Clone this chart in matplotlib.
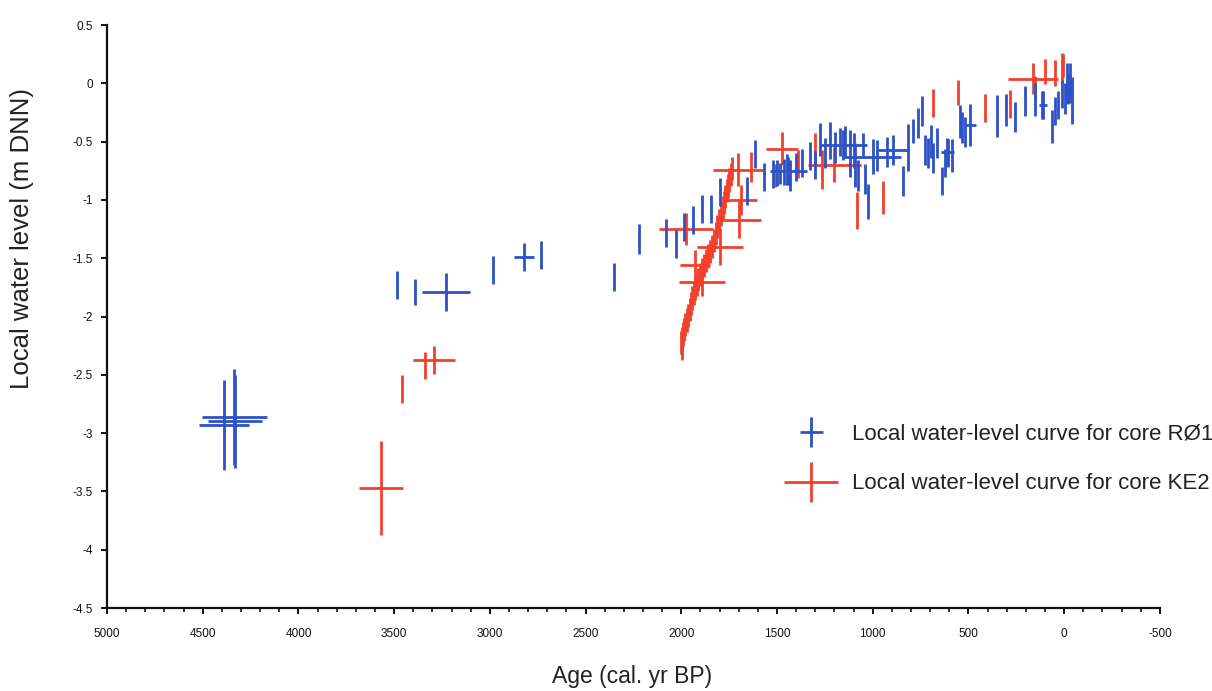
import matplotlib
matplotlib.use("Agg")
import matplotlib.pyplot as plt
from matplotlib.legend_handler import HandlerErrorbar
from matplotlib.ticker import MultipleLocator, FixedLocator, FixedFormatter

plt.rcParams['font.family'] = ['Liberation Sans', 'DejaVu Sans']

# ---- Core RØ1: age (cal. yr BP), level (m DNN), age error, level error ----
ro1_age = [4390, 4336, 4330, 3486, 3391, 3230, 2982, 2821, 2732, 2351,
           2220, 2079, 2027, 1984, 1937, 1890, 1844, 1797, 1658, 1614,
           1567, 1519, 1501, 1484, 1466, 1449, 1432, 1442, 1400, 1370,
           1327, 1300, 1275, 1249, 1223, 1196, 1170, 1155, 1144, 1118,
           1100, 1092, 1075, 1050, 1040, 1024, 1000, 977, 926, 893,
           841, 815, 789, 763, 745, 727, 711, 695, 684, 663,
           637, 622, 610, 606, 585, 543, 535, 520, 490, 352,
           303, 256, 204, 152, 117, 110, 66, 48, 32, 12,
           -5, -14, -22, -31, -40]
ro1_level = [-2.93, -2.86, -2.90, -1.73, -1.79, -1.79, -1.60, -1.49, -1.475, -1.66,
             -1.335, -1.28, -1.38, -1.235, -1.17, -1.08, -1.08, -0.93, -0.92, -0.61,
             -0.80, -0.78, -0.77, -0.77, -0.76, -0.74, -0.79, -0.75, -0.72, -0.68,
             -0.62, -0.70, -0.48, -0.60, -0.49, -0.55, -0.50, -0.53, -0.50, -0.60,
             -0.58, -0.70, -0.79, -0.53, -0.82, -1.01, -0.63, -0.62, -0.59, -0.57,
             -0.84, -0.55, -0.41, -0.34, -0.24, -0.57, -0.60, -0.50, -0.64, -0.51,
             -0.84, -0.68, -0.59, -0.60, -0.62, -0.33, -0.38, -0.42, -0.36, -0.28,
             -0.23, -0.29, -0.15, -0.14, -0.19, -0.19, -0.37, -0.24, -0.19, -0.09,
             -0.13, 0.00, -0.05, 0.00, -0.15]
ro1_age_err = [130, 170, 140, 0, 0, 125, 0, 52, 0, 0,
               0, 0, 0, 0, 0, 0, 0, 0, 0, 0,
               0, 0, 0, 0, 0, 0, 0, 96, 0, 0,
               0, 0, 0, 0, 0, 0, 0, 125, 0, 0,
               0, 0, 0, 0, 0, 0, 150, 0, 0, 85,
               0, 0, 0, 0, 0, 0, 0, 0, 0, 0,
               0, 0, 35, 0, 0, 0, 0, 0, 30, 0,
               0, 0, 0, 0, 0, 20, 0, 0, 0, 0,
               0, 0, 0, 0, 0]
ro1_level_err = [0.39, 0.41, 0.40, 0.12, 0.115, 0.16, 0.12, 0.12, 0.12, 0.12,
                 0.125, 0.12, 0.12, 0.12, 0.12, 0.12, 0.12, 0.12, 0.12, 0.12,
                 0.12, 0.12, 0.11, 0.09, 0.11, 0.13, 0.13, 0.12, 0.12, 0.12,
                 0.12, 0.12, 0.14, 0.13, 0.16, 0.13, 0.12, 0.13, 0.13, 0.20,
                 0.15, 0.19, 0.13, 0.10, 0.13, 0.15, 0.15, 0.13, 0.13, 0.13,
                 0.13, 0.20, 0.10, 0.13, 0.13, 0.13, 0.13, 0.14, 0.13, 0.13,
                 0.12, 0.12, 0.12, 0.12, 0.14, 0.14, 0.13, 0.13, 0.18, 0.18,
                 0.14, 0.13, 0.13, 0.14, 0.12, 0.12, 0.14, 0.12, 0.12, 0.12,
                 0.13, 0.17, 0.13, 0.17, 0.20]

# ---- Core KE2 ----
ke2_age = [3570, 3460, 3339, 3290,
           2001, 1999, 1997, 1994, 1990, 1985, 1979, 1972, 1964, 1957, 1950,
           1942, 1934, 1927, 1919, 1911, 1902, 1892, 1882, 1872, 1862,
           1851, 1841, 1831, 1821, 1811, 1801, 1792, 1784, 1777, 1770,
           1763, 1756, 1749, 1742, 1735,
           1975, 1928, 1890, 1800, 1700, 1690, 1705, 1475, 1200,
           1637, 1510, 1390, 1301, 1266, 1081, 949,
           684, 554, 413, 282, 162, 152, 99, 48, 12, 5]
ke2_level = [-3.47, -2.62, -2.42, -2.37,
             -2.22, -2.27, -2.23, -2.19, -2.15, -2.11, -2.07, -2.03, -1.99, -1.94, -1.89,
             -1.84, -1.80, -1.76, -1.72, -1.68, -1.64, -1.60, -1.56, -1.52, -1.48,
             -1.44, -1.40, -1.35, -1.29, -1.23, -1.18, -1.12, -1.07, -1.02, -0.97,
             -0.92, -0.88, -0.83, -0.78, -0.73,
             -1.25, -1.56, -1.70, -1.40, -1.17, -1.00, -0.74, -0.56, -0.70,
             -0.72, -0.79, -0.69, -0.56, -0.74, -1.09, -0.98,
             -0.17, -0.08, -0.21, -0.18, 0.04, -0.04, 0.10, 0.09, 0.13, 0.15]
ke2_age_err = [115, 0, 0, 110,
               0, 0, 0, 0, 0, 0, 0, 0, 0, 0, 0,
               0, 0, 0, 0, 0, 0, 0, 0, 0, 0,
               0, 0, 0, 0, 0, 0, 0, 0, 0, 0,
               0, 0, 0, 0, 0,
               140, 80, 120, 120, 115, 85, 130, 85, 140,
               0, 0, 0, 0, 0, 0, 0,
               0, 0, 0, 0, 131, 0, 0, 0, 0, 0]
ke2_level_err = [0.40, 0.12, 0.115, 0.12,
                 0.10, 0.10, 0.10, 0.10, 0.10, 0.10, 0.10, 0.10, 0.10, 0.10, 0.10,
                 0.10, 0.10, 0.10, 0.10, 0.10, 0.10, 0.10, 0.10, 0.10, 0.10,
                 0.10, 0.10, 0.10, 0.10, 0.10, 0.10, 0.10, 0.10, 0.10, 0.10,
                 0.10, 0.10, 0.10, 0.10, 0.10,
                 0.14, 0.13, 0.12, 0.16, 0.16, 0.13, 0.14, 0.14, 0.15,
                 0.13, 0.10, 0.12, 0.13, 0.17, 0.155, 0.14,
                 0.12, 0.11, 0.12, 0.12, 0.13, 0.10, 0.11, 0.11, 0.13, 0.10]

x_ticks = [5000, 4500, 4000, 3500, 3000, 2500, 2000, 1500, 1000, 500, 0, -500]
x_tick_labels = ['5000', '4500', '4000', '3500', '3000', '2500', '2000',
                 '1500', '1000', '500', '0', '-500']
y_ticks = [0.5, 0, -0.5, -1, -1.5, -2, -2.5, -3, -3.5, -4, -4.5]
y_tick_labels = ['0.5', '0', '-0.5', '-1', '-1.5', '-2', '-2.5', '-3', '-3.5', '-4', '-4.5']

label_ro1 = 'Local water-level curve for core RØ1'
label_ke2 = 'Local water-level curve for core KE2'

BLUE = '#2c52c6'
RED = '#f3402d'

fig = plt.figure(figsize=(12.12, 6.91), dpi=100)
ax = fig.add_axes([0.0883, 0.120, 0.8687, 0.8438])

eb_ro1 = ax.errorbar(ro1_age, ro1_level, xerr=ro1_age_err, yerr=ro1_level_err,
                     fmt='none', ecolor=BLUE, elinewidth=2.0, capsize=0, zorder=3)
eb_ke2 = ax.errorbar(ke2_age, ke2_level, xerr=ke2_age_err, yerr=ke2_level_err,
                     fmt='none', ecolor=RED, elinewidth=2.0, capsize=0, zorder=2)

ax.set_xlim(5000, -500)
ax.set_ylim(-4.5, 0.5)

ax.xaxis.set_major_locator(FixedLocator(x_ticks))
ax.xaxis.set_major_formatter(FixedFormatter(x_tick_labels))
ax.xaxis.set_minor_locator(MultipleLocator(100))
ax.yaxis.set_major_locator(FixedLocator(y_ticks))
ax.yaxis.set_major_formatter(FixedFormatter(y_tick_labels))

for side in ('top', 'right'):
    ax.spines[side].set_visible(False)
for side in ('left', 'bottom'):
    ax.spines[side].set_linewidth(1.6)
    ax.spines[side].set_color('#111111')

ax.tick_params(axis='both', which='major', direction='out', length=4, width=1.4,
               labelsize=8.5, colors='#111111')
ax.tick_params(axis='x', which='minor', direction='out', length=3, width=1.2,
               colors='#111111')
ax.tick_params(axis='x', which='major', pad=10)
ax.tick_params(axis='y', which='major', pad=6)

ax.set_xlabel('Age (cal. yr BP)', fontsize=16.5, color='#222222', va='top')
ax.xaxis.set_label_coords(0.4986, -0.097)
ax.set_ylabel('Local water level (m DNN)', fontsize=18.5, color='#222222')
ax.yaxis.set_label_coords(-0.069, 0.633)

leg = ax.legend([eb_ro1, eb_ke2], [label_ro1, label_ke2],
                handler_map={eb_ro1: HandlerErrorbar(xerr_size=0.52, yerr_size=0.68),
                             eb_ke2: HandlerErrorbar(xerr_size=1.2, yerr_size=0.9)},
                loc='center left', bbox_to_anchor=(0.6244, 0.2556),
                frameon=False, fontsize=16, handlelength=2.4, handletextpad=0.65,
                labelspacing=1.29, labelcolor='#222222')

fig.savefig('out.png', dpi=100)
